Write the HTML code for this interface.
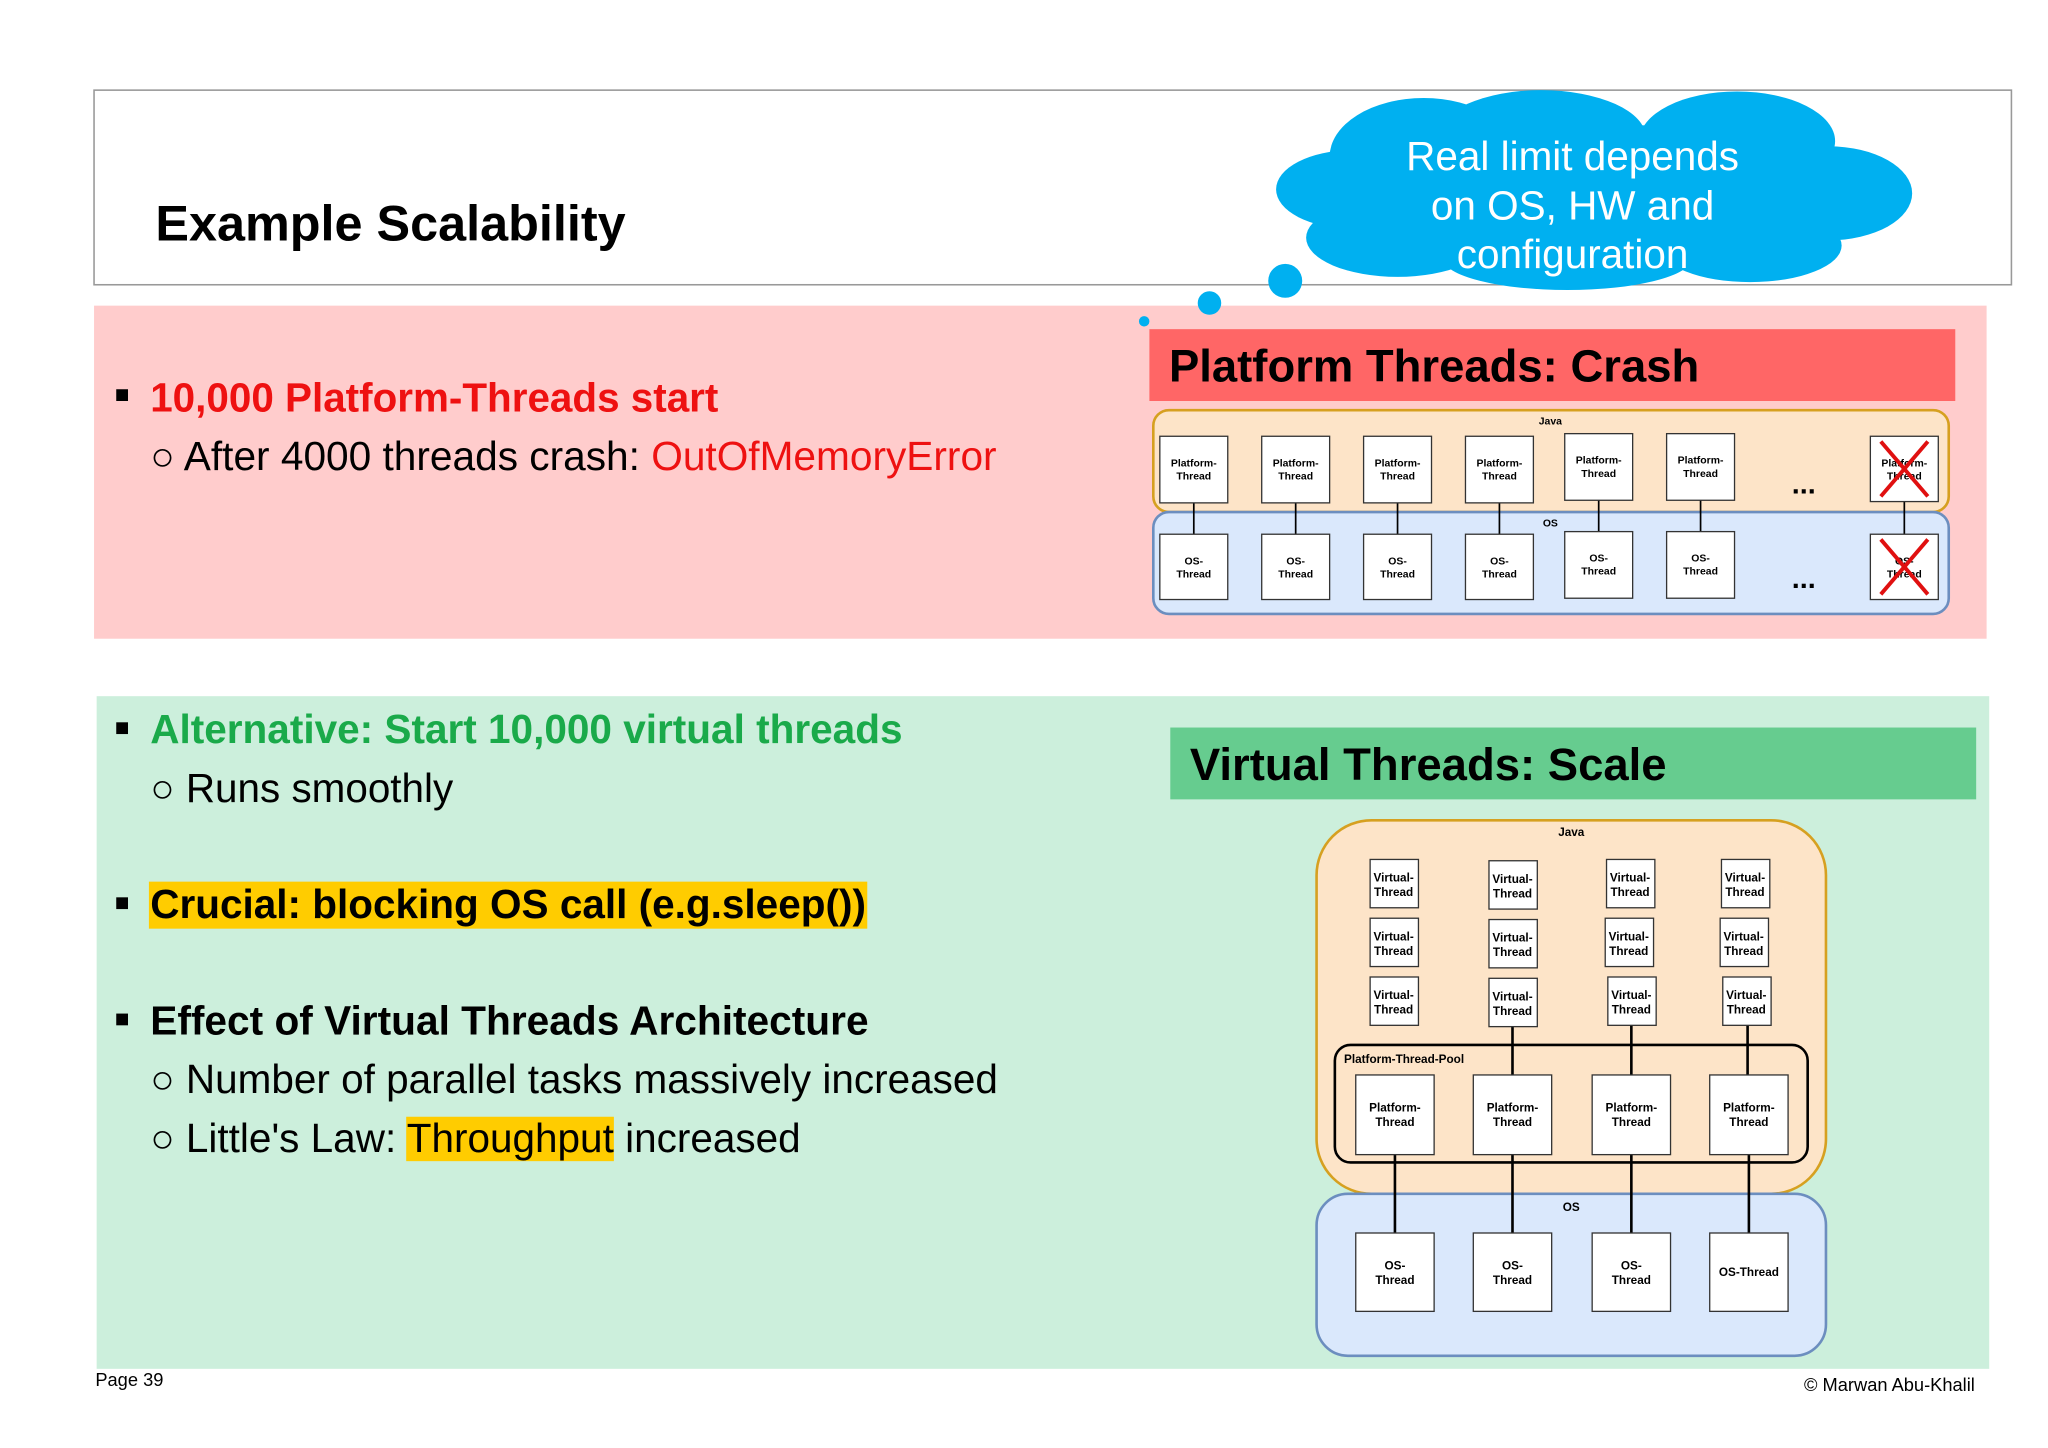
<!DOCTYPE html>
<html><head><meta charset="utf-8"><style>
html,body{margin:0;padding:0;background:#fff;width:2048px;height:1448px;overflow:hidden}
svg{display:block}
text{font-family:"Liberation Sans",Arial,sans-serif}
</style></head><body>
<svg width="2048" height="1448" viewBox="0 0 1568 1108.6" xmlns="http://www.w3.org/2000/svg">
<rect x="0" y="0" width="1568" height="1109" fill="#fff"/>
<rect x="72" y="69" width="1468" height="149" fill="#fff" stroke="#999" stroke-width="1.2"/>
<text x="119" y="184" font-size="38" font-weight="bold" fill="#000" textLength="360" lengthAdjust="spacingAndGlyphs">Example Scalability</text>
<rect x="72" y="234" width="1449" height="255" fill="#ffcccc"/>
<rect x="74" y="533" width="1449" height="515" fill="#ccefdc"/>
<g fill="#00b0f0">
<ellipse cx="1090" cy="120" rx="72" ry="45"/>
<ellipse cx="1180" cy="105" rx="80" ry="36"/>
<ellipse cx="1330" cy="108" rx="75" ry="38"/>
<ellipse cx="1400" cy="148" rx="64" ry="36"/>
<ellipse cx="1340" cy="188" rx="70" ry="28"/>
<ellipse cx="1200" cy="198" rx="95" ry="24"/>
<ellipse cx="1070" cy="182" rx="70" ry="30"/>
<ellipse cx="1035" cy="145" rx="58" ry="30"/>
<ellipse cx="1220" cy="150" rx="210" ry="55"/>
<circle cx="984" cy="215" r="13"/>
<circle cx="926" cy="232" r="9"/>
<circle cx="876" cy="246" r="4"/>
</g>
<g fill="#fff" font-size="31" text-anchor="middle">
<text x="1204" y="130">Real limit depends</text>
<text x="1204" y="168">on OS, HW and</text>
<text x="1204" y="205">configuration</text>
</g>
<g font-size="31">
<rect x="89" y="298" width="9" height="9" fill="#000"/>
<text x="115" y="315" font-weight="bold" fill="#ee1111" textLength="435" lengthAdjust="spacingAndGlyphs">10,000 Platform-Threads start</text>
<text x="115" y="360" fill="#000" textLength="648" lengthAdjust="spacingAndGlyphs">○ After 4000 threads crash: <tspan fill="#ee1111">OutOfMemoryError</tspan></text>

<rect x="89" y="553" width="9" height="9" fill="#000"/>
<text x="115" y="569" font-weight="bold" fill="#1aaa4a" textLength="576" lengthAdjust="spacingAndGlyphs">Alternative: Start 10,000 virtual threads</text>
<text x="115" y="614" fill="#000" textLength="232" lengthAdjust="spacingAndGlyphs">○ Runs smoothly</text>

<rect x="114" y="675" width="550" height="36" fill="#ffcc00"/>
<rect x="89" y="687" width="9" height="9" fill="#000"/>
<text x="115" y="703" font-weight="bold" fill="#000" textLength="548" lengthAdjust="spacingAndGlyphs">Crucial: blocking OS call (e.g.sleep())</text>

<rect x="89" y="776" width="9" height="9" fill="#000"/>
<text x="115" y="792" font-weight="bold" fill="#000" textLength="550" lengthAdjust="spacingAndGlyphs">Effect of Virtual Threads Architecture</text>
<text x="115" y="837" fill="#000" textLength="649" lengthAdjust="spacingAndGlyphs">○ Number of parallel tasks massively increased</text>
<rect x="311" y="855" width="159" height="34" fill="#ffcc00"/>
<text x="115" y="882" fill="#000" textLength="498" lengthAdjust="spacingAndGlyphs">○ Little's Law: Throughput increased</text>
</g>
<text x="73" y="1061" font-size="14" fill="#000">Page 39</text>
<text x="1512" y="1065" font-size="14" fill="#000" text-anchor="end">© Marwan Abu-Khalil</text>

<rect x="880" y="252" width="617" height="55" fill="#ff6666"/>
<text x="895" y="292" font-size="35" font-weight="bold" fill="#000" textLength="406" lengthAdjust="spacingAndGlyphs">Platform Threads: Crash</text>
<rect x="883" y="314" width="609" height="78" rx="12" fill="#fde4c8" stroke="#d6a020" stroke-width="2"/>
<rect x="883" y="392" width="609" height="78" rx="12" fill="#dae8fc" stroke="#6c8ebf" stroke-width="2"/>
<text x="1187" y="325" font-size="8" font-weight="bold" text-anchor="middle">Java</text>
<text x="1187" y="403" font-size="8" font-weight="bold" text-anchor="middle">OS</text>
<g stroke="#000" stroke-width="1.3">
<line x1="914" y1="385" x2="914" y2="409"/><line x1="992" y1="385" x2="992" y2="409"/>
<line x1="1070" y1="385" x2="1070" y2="409"/><line x1="1148" y1="385" x2="1148" y2="409"/>
<line x1="1224" y1="383" x2="1224" y2="407"/><line x1="1302" y1="383" x2="1302" y2="407"/>
<line x1="1458" y1="384" x2="1458" y2="409"/>
</g>
<g fill="#fff" stroke="#333" stroke-width="1">
<rect x="888" y="334" width="52" height="51"/><rect x="966" y="334" width="52" height="51"/>
<rect x="1044" y="334" width="52" height="51"/><rect x="1122" y="334" width="52" height="51"/>
<rect x="1198" y="332" width="52" height="51"/><rect x="1276" y="332" width="52" height="51"/>
<rect x="1432" y="334" width="52" height="50"/>
<rect x="888" y="409" width="52" height="50"/><rect x="966" y="409" width="52" height="50"/>
<rect x="1044" y="409" width="52" height="50"/><rect x="1122" y="409" width="52" height="50"/>
<rect x="1198" y="407" width="52" height="51"/><rect x="1276" y="407" width="52" height="51"/>
<rect x="1432" y="409" width="52" height="50"/>
</g>
<g font-size="8" font-weight="bold" text-anchor="middle" fill="#000">
<text x="914" y="357">Platform-</text><text x="914" y="367">Thread</text>
<text x="992" y="357">Platform-</text><text x="992" y="367">Thread</text>
<text x="1070" y="357">Platform-</text><text x="1070" y="367">Thread</text>
<text x="1148" y="357">Platform-</text><text x="1148" y="367">Thread</text>
<text x="1224" y="355">Platform-</text><text x="1224" y="365">Thread</text>
<text x="1302" y="355">Platform-</text><text x="1302" y="365">Thread</text>
<text x="1458" y="357">Platform-</text><text x="1458" y="367">Thread</text>
<text x="914" y="432">OS-</text><text x="914" y="442">Thread</text>
<text x="992" y="432">OS-</text><text x="992" y="442">Thread</text>
<text x="1070" y="432">OS-</text><text x="1070" y="442">Thread</text>
<text x="1148" y="432">OS-</text><text x="1148" y="442">Thread</text>
<text x="1224" y="430">OS-</text><text x="1224" y="440">Thread</text>
<text x="1302" y="430">OS-</text><text x="1302" y="440">Thread</text>
<text x="1458" y="432">OS-</text><text x="1458" y="442">Thread</text>
</g>
<g stroke="#e01010" stroke-width="3">
<line x1="1440" y1="338" x2="1476" y2="380"/><line x1="1476" y1="338" x2="1440" y2="380"/>
<line x1="1440" y1="413" x2="1476" y2="455"/><line x1="1476" y1="413" x2="1440" y2="455"/>
</g>
<text x="1381" y="378" font-size="22" font-weight="bold" text-anchor="middle">...</text>
<text x="1381" y="450" font-size="22" font-weight="bold" text-anchor="middle">...</text>

<rect x="896" y="557" width="617" height="55" fill="#66cc8f"/>
<text x="911" y="597" font-size="35" font-weight="bold" fill="#000" textLength="365" lengthAdjust="spacingAndGlyphs">Virtual Threads: Scale</text>
<rect x="1008" y="628" width="390" height="286" rx="42" fill="#fde4c8" stroke="#d6a020" stroke-width="2"/>
<rect x="1008" y="914" width="390" height="124" rx="24" fill="#dae8fc" stroke="#6c8ebf" stroke-width="2"/>
<text x="1203" y="640" font-size="9" font-weight="bold" text-anchor="middle">Java</text>
<text x="1203" y="927" font-size="9" font-weight="bold" text-anchor="middle">OS</text>
<rect x="1022" y="800" width="362" height="90" rx="12" fill="none" stroke="#000" stroke-width="2"/>
<text x="1029" y="814" font-size="9" font-weight="bold">Platform-Thread-Pool</text>
<g stroke="#000" stroke-width="2">
<line x1="1158" y1="785" x2="1158" y2="823"/><line x1="1249" y1="785" x2="1249" y2="823"/><line x1="1338" y1="785" x2="1338" y2="823"/>
<line x1="1068" y1="884" x2="1068" y2="944"/><line x1="1158" y1="884" x2="1158" y2="944"/>
<line x1="1249" y1="884" x2="1249" y2="944"/><line x1="1339" y1="884" x2="1339" y2="944"/>
</g>
<g fill="#fff" stroke="#333" stroke-width="1">
<rect x="1049" y="658" width="37" height="37"/><rect x="1140" y="659" width="37" height="37"/><rect x="1230" y="658" width="37" height="37"/><rect x="1318" y="658" width="37" height="37"/>
<rect x="1049" y="703" width="37" height="37"/><rect x="1140" y="704" width="37" height="37"/><rect x="1229" y="703" width="37" height="37"/><rect x="1317" y="703" width="37" height="37"/>
<rect x="1049" y="748" width="37" height="37"/><rect x="1140" y="749" width="37" height="37"/><rect x="1231" y="748" width="37" height="37"/><rect x="1319" y="748" width="37" height="37"/>
<rect x="1038" y="823" width="60" height="61"/><rect x="1128" y="823" width="60" height="61"/><rect x="1219" y="823" width="60" height="61"/><rect x="1309" y="823" width="60" height="61"/>
<rect x="1038" y="944" width="60" height="60"/><rect x="1128" y="944" width="60" height="60"/><rect x="1219" y="944" width="60" height="60"/><rect x="1309" y="944" width="60" height="60"/>
</g>
<g font-size="9" font-weight="bold" text-anchor="middle" fill="#000">
<text x="1067" y="675">Virtual-</text><text x="1067" y="686">Thread</text>
<text x="1158" y="676">Virtual-</text><text x="1158" y="687">Thread</text>
<text x="1248" y="675">Virtual-</text><text x="1248" y="686">Thread</text>
<text x="1336" y="675">Virtual-</text><text x="1336" y="686">Thread</text>
<text x="1067" y="720">Virtual-</text><text x="1067" y="731">Thread</text>
<text x="1158" y="721">Virtual-</text><text x="1158" y="732">Thread</text>
<text x="1247" y="720">Virtual-</text><text x="1247" y="731">Thread</text>
<text x="1335" y="720">Virtual-</text><text x="1335" y="731">Thread</text>
<text x="1067" y="765">Virtual-</text><text x="1067" y="776">Thread</text>
<text x="1158" y="766">Virtual-</text><text x="1158" y="777">Thread</text>
<text x="1249" y="765">Virtual-</text><text x="1249" y="776">Thread</text>
<text x="1337" y="765">Virtual-</text><text x="1337" y="776">Thread</text>
<text x="1068" y="851">Platform-</text><text x="1068" y="862">Thread</text>
<text x="1158" y="851">Platform-</text><text x="1158" y="862">Thread</text>
<text x="1249" y="851">Platform-</text><text x="1249" y="862">Thread</text>
<text x="1339" y="851">Platform-</text><text x="1339" y="862">Thread</text>
<text x="1068" y="972">OS-</text><text x="1068" y="983">Thread</text>
<text x="1158" y="972">OS-</text><text x="1158" y="983">Thread</text>
<text x="1249" y="972">OS-</text><text x="1249" y="983">Thread</text>
<text x="1339" y="977">OS-Thread</text>
</g>
</svg>
</body></html>
